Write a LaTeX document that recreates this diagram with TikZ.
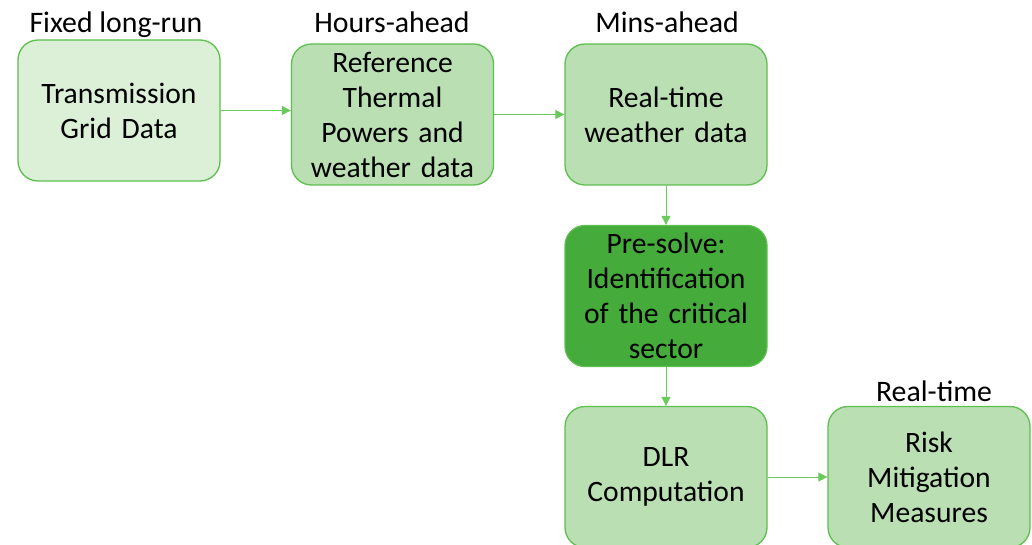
\documentclass[tikz,border=0pt]{standalone}
\usepackage{fontspec}
\setmainfont{Carlito}
\usetikzlibrary{arrows.meta}
\definecolor{edge}{HTML}{5CBF4E}
\definecolor{lightfill}{HTML}{DCEFD7}
\definecolor{midfill}{HTML}{B9DFB2}
\definecolor{darkfill}{HTML}{45AB3A}
\definecolor{arrowc}{HTML}{6ACB5C}
\tikzset{
  box/.style={draw=edge, line width=1.3pt, rounded corners=20pt, minimum width=202pt, minimum height=141pt, inner sep=0pt, align=center, font=\fontsize{29.6}{35}\selectfont, text width=200pt},
  lbl/.style={inner sep=0pt, font=\fontsize{29.8}{35}\selectfont, anchor=base},
  conn/.style={draw=arrowc, line width=1pt, -{Triangle[length=9pt,width=9pt]}}
}
\begin{document}
\begin{tikzpicture}[x=1pt,y=-1pt]
\useasboundingbox (0,0) rectangle (1032,545);
\node[box, fill=lightfill] (tg) at (119,110.5) {Transmission\\Grid Data};
\node[box, fill=midfill] (ref) at (392.5,114.5) {Reference\\Thermal\\Powers and\\weather data};
\node[box, fill=midfill] (rt) at (666,114.5) {Real-time\\weather data};
\node[box, fill=darkfill] (pre) at (666,296) {Pre-solve:\\Identification\\of the critical\\sector};
\node[box, fill=midfill] (dlr) at (666,477) {DLR\\Computation};
\node[box, fill=midfill] (risk) at (929,477) {Risk\\Mitigation\\Measures};
\node[lbl] (l1) at (116,33) {Fixed long-run};
\node[lbl] (l2) at (392,33) {Hours-ahead};
\node[lbl] (l3) at (667,33) {Mins-ahead};
\node[lbl] (l4) at (934,401) {Real-time};
\draw[conn] (tg.east) -- (tg.east -| ref.west);
\draw[conn] (ref.east) -- (ref.east -| rt.west);
\draw[conn] (rt.south) -- (pre.north);
\draw[conn] (pre.south) -- (dlr.north);
\draw[conn] (dlr.east) -- (dlr.east -| risk.west);
\end{tikzpicture}
\end{document}
